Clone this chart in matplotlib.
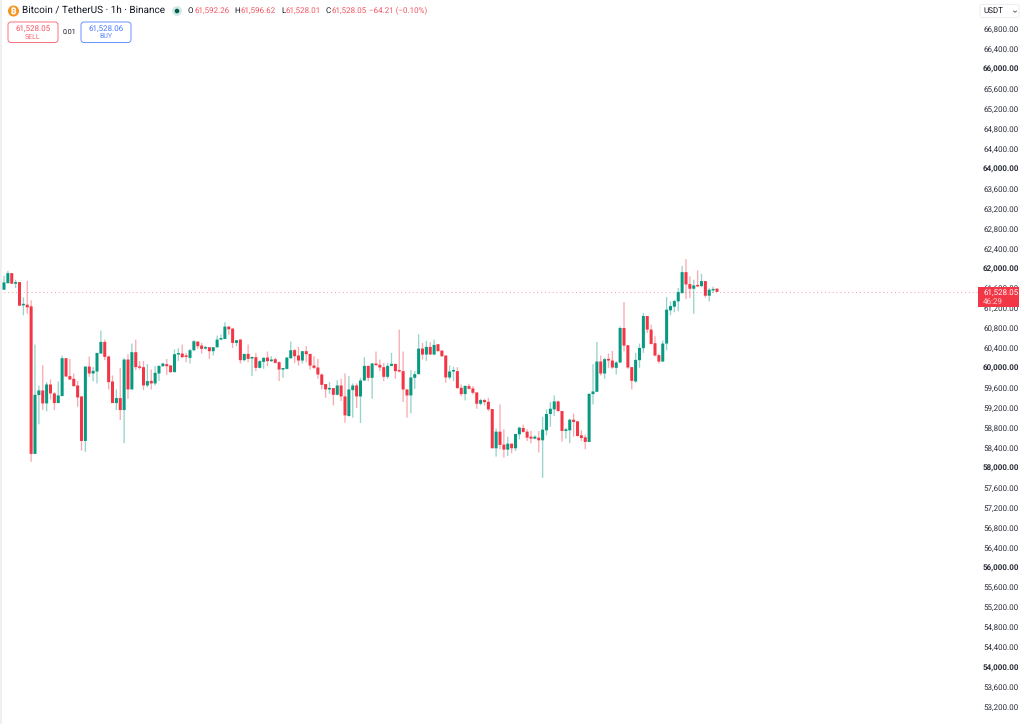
import matplotlib
matplotlib.use("Agg")
import matplotlib.pyplot as plt
import numpy as np
from matplotlib.patches import Circle, FancyBboxPatch, Rectangle

plt.rcParams['font.family'] = ['Roboto', 'DejaVu Sans']
plt.rcParams['text.hinting'] = 'none'
plt.rcParams['text.hinting_factor'] = 1

opens = [61570, 61703, 61903, 61690, 61723, 61257, 61270, 61237, 58277, 59457,
         59550, 59290, 59670, 59490, 59297, 59437, 60197, 59837, 59783, 59650,
         59430, 58537, 60030, 59890, 59930, 60290, 60523, 60230, 59730, 59297,
         59397, 59157, 60170, 59570, 60317, 60030, 60017, 59650, 59743, 59690,
         59890, 60037, 60077, 60050, 59917, 60270, 60290, 60237, 60203, 60357,
         60530, 60450, 60390, 60417, 60337, 60417, 60570, 60583, 60830, 60790,
         60503, 60570, 60157, 60283, 60190, 60217, 60003, 60123, 60210, 60137,
         60177, 60117, 59970, 59983, 60197, 60357, 60250, 60150, 60337, 60283,
         60050, 60010, 59870, 59677, 59570, 59597, 59463, 59650, 59430, 59037,
         59557, 59650, 59430, 59750, 60043, 59803, 60090, 60063, 60017, 59823,
         60043, 60083, 59950, 59937, 59570, 59450, 59803, 59877, 60390, 60270,
         60423, 60270, 60477, 60350, 60250, 59810, 59930, 59937, 59603, 59477,
         59637, 59590, 59510, 59283, 59357, 59323, 59177, 58390, 58723, 58463,
         58363, 58483, 58390, 58670, 58797, 58723, 58623, 58583, 58603, 58550,
         58750, 59077, 59170, 59330, 59137, 58737, 58750, 58963, 58930, 58650,
         58610, 58517, 59477, 59523, 60130, 59890, 60183, 60150, 60003, 60110,
         60803, 60457, 60017, 59730, 60157, 60397, 61043, 60770, 60497, 60257,
         60130, 60490, 61157, 61230, 61337, 61503, 61923, 61683, 61590, 61663,
         61643, 61743, 61450, 61557, 61592.26]
highs = [61850, 61950, 61903, 61770, 61723, 61417, 61750, 61357, 60470, 59650,
         60057, 59717, 59770, 59517, 59730, 60250, 60197, 60183, 59890, 59743,
         59430, 60030, 60230, 60023, 60303, 60750, 60570, 60250, 59850, 59570,
         59997, 60197, 60277, 60490, 60570, 60137, 60143, 60077, 59970, 60037,
         60050, 60103, 60183, 60063, 60370, 60397, 60470, 60303, 60383, 60557,
         60530, 60503, 60450, 60417, 60417, 60650, 60670, 60917, 60843, 60803,
         60557, 60583, 60283, 60470, 60237, 60303, 60157, 60217, 60330, 60237,
         60210, 60130, 59997, 60217, 60530, 60383, 60423, 60343, 60437, 60283,
         60237, 60183, 59890, 59677, 59717, 59597, 59757, 59783, 59890, 59837,
         59690, 59690, 59803, 60217, 60050, 60103, 60330, 60170, 60103, 60103,
         60303, 60083, 60770, 60330, 59570, 59957, 59937, 60677, 60503, 60543,
         60517, 60570, 60477, 60350, 60250, 60050, 60023, 60017, 59670, 59643,
         59683, 59637, 59510, 59383, 59383, 59403, 59177, 58783, 59270, 58770,
         58623, 58483, 58677, 58823, 58863, 58770, 58737, 58650, 58737, 59017,
         59170, 59317, 59450, 59343, 59137, 58803, 58983, 59083, 58937, 58750,
         58663, 59483, 60077, 60523, 60250, 60203, 60290, 60343, 60137, 60837,
         61323, 60457, 60017, 60303, 60490, 61103, 61043, 60870, 60637, 60290,
         60550, 61423, 61337, 61370, 61603, 62050, 62183, 61837, 61770, 61957,
         61890, 61743, 61603, 61630, 61596.62]
lows = [61570, 61690, 61690, 61603, 61250, 61057, 61090, 58117, 58277, 58870,
        59157, 59130, 59370, 59157, 59297, 59437, 59823, 59757, 59623, 59223,
        58343, 58317, 59823, 59730, 59690, 60290, 60157, 59570, 59297, 59157,
        58957, 58490, 59383, 59570, 59957, 59970, 59557, 59610, 59570, 59650,
        59737, 60023, 59863, 59903, 59917, 60143, 60203, 60117, 60090, 60337,
        60383, 60290, 60370, 60183, 60250, 60403, 60557, 60583, 60670, 60403,
        60437, 60090, 60137, 60117, 59837, 59937, 59990, 59983, 60037, 60123,
        60090, 59737, 59803, 59970, 60183, 60103, 60050, 60090, 60117, 59970,
        59983, 59783, 59570, 59403, 59483, 59250, 59450, 59337, 58903, 59023,
        59003, 59197, 58897, 59737, 59737, 59383, 60050, 59937, 59737, 59783,
        60030, 59783, 59917, 59317, 59003, 59090, 59583, 59870, 60170, 60143,
        60270, 60257, 60337, 60223, 59703, 59770, 59737, 59583, 59437, 59350,
        59570, 59470, 59183, 59250, 59250, 59137, 58390, 58223, 58370, 58203,
        58237, 58290, 58337, 58570, 58703, 58537, 58490, 58570, 58303, 57797,
        58650, 58823, 59037, 59123, 58523, 58583, 58490, 58623, 58623, 58537,
        58370, 58517, 59270, 59517, 59850, 59783, 60003, 59983, 59870, 60103,
        60330, 59983, 59570, 59703, 60003, 60303, 60703, 60470, 60237, 60090,
        60123, 60357, 61057, 61117, 61137, 61490, 61383, 61403, 61090, 61623,
        61623, 61410, 61337, 61503, 61528.01]
closes = [61717, 61903, 61690, 61723, 61250, 61277, 61217, 58277, 59463, 59550,
          59290, 59670, 59490, 59297, 59450, 60197, 59830, 59770, 59637, 59410,
          58537, 60030, 59890, 59943, 60303, 60523, 60223, 59717, 59297, 59397,
          59157, 60170, 59570, 60317, 60017, 60003, 59650, 59737, 59690, 59903,
          60043, 60090, 60037, 59917, 60277, 60297, 60217, 60223, 60357, 60537,
          60437, 60383, 60410, 60337, 60417, 60570, 60597, 60830, 60777, 60503,
          60557, 60157, 60283, 60183, 60217, 60003, 60137, 60203, 60137, 60170,
          60103, 59970, 59997, 60210, 60357, 60237, 60150, 60337, 60277, 60050,
          60003, 59870, 59663, 59570, 59597, 59463, 59650, 59430, 59050, 59570,
          59650, 59430, 59750, 60043, 59803, 60090, 60057, 60010, 59823, 60043,
          60083, 59937, 59930, 59570, 59450, 59810, 59877, 60390, 60270, 60423,
          60270, 60463, 60337, 60237, 59810, 59930, 59943, 59597, 59477, 59643,
          59583, 59503, 59283, 59357, 59317, 59170, 58390, 58723, 58457, 58363,
          58483, 58390, 58677, 58803, 58717, 58603, 58583, 58623, 58550, 58763,
          59077, 59183, 59330, 59137, 58737, 58770, 58963, 58917, 58637, 58597,
          58517, 59483, 59530, 60130, 59890, 60177, 60150, 60010, 60110, 60803,
          60450, 60010, 59743, 60163, 60403, 61043, 60770, 60483, 60250, 60130,
          60490, 61170, 61243, 61343, 61523, 61923, 61677, 61590, 61657, 61637,
          61743, 61450, 61570, 61570, 61528.05]
price_ticks = list(range(53200, 67200, 400))

GREEN = '#089981'
RED = '#F23645'
BLUE = '#2962FF'
INK = '#131722'

fig = plt.figure(figsize=(10.24, 7.24), dpi=100)
W, H = 1024, 724

# price pane stops where the scale column starts
ax = fig.add_axes([0, 0, 978 / W, 1])
idx = np.arange(len(opens))
o, h, l, c = map(np.array, (opens, highs, lows, closes))
colors = np.where(c >= o, GREEN, RED)
wicks = ax.vlines(idx, l, h, colors=colors, linewidth=0.95, alpha=0.42, zorder=2)
wicks.set_snap(False)
bodies = ax.bar(idx, np.maximum(np.abs(c - o), 30), bottom=np.minimum(o, c), width=0.78,
                color=colors, linewidth=0, zorder=3)
# no pixel snapping, otherwise neighbouring bodies come out at uneven widths
for b in bodies:
    b.set_snap(False)
ax.axhline(closes[-1], color=RED, linestyle=(0, (1, 3)), linewidth=0.7, alpha=0.5, zorder=1)

step = 3.875
ax.set_xlim(-4 / step, (978 - 4) / step)
ax.set_ylim(52859, 67382)
ax.set_xticks([])
ax.set_yticks(price_ticks)
ax.set_yticklabels([f'{p:,.2f}' for p in price_ticks])
ax.yaxis.tick_right()
ax.tick_params(axis='y', length=0, pad=3.6, labelsize=6, labelcolor='#2a2e39')
for lab, p in zip(ax.get_yticklabels(), price_ticks):
    if p % 2000 == 0:
        lab.set_fontweight('bold')
for s in ax.spines.values():
    s.set_visible(False)

# chrome drawn in pixel coordinates on a transparent overlay
ui = fig.add_axes([0, 0, 1, 1], zorder=5)
ui.set_xlim(0, W)
ui.set_ylim(H, 0)
ui.axis('off')
ui.patch.set_alpha(0)

ui.add_patch(Rectangle((0, 0), 2, H, facecolor='#f0f0f0', edgecolor='none'))

# header line
ui.add_patch(Circle((13.5, 11), 5.5, facecolor='#F7931A', edgecolor='none'))
ui.text(13.5, 11.2, '₿', color='white', fontsize=6, ha='center', va='center',
        family=['Inter', 'Noto Sans', 'Open Sans', 'Lato', 'DejaVu Sans'], fontweight='bold')
ui.text(22, 11, 'Bitcoin / TetherUS · 1h · Binance', fontsize=7.3, color=INK,
        ha='left', va='center')
ui.add_patch(Circle((177, 11), 5, facecolor='#d3ebe6', edgecolor='none'))
ui.add_patch(Circle((177, 11), 2.3, facecolor='#06594b', edgecolor='none'))

ohlc_items = [(188, 'O', 194, '61,592.26'), (234, 'H', 240, '61,596.62'),
              (281, 'L', 285, '61,528.01'), (326, 'C', 331, '61,528.05')]
for x0, key, x1, val in ohlc_items:
    ui.text(x0, 11, key, fontsize=6, color=INK, ha='left', va='center')
    ui.text(x1, 11, val, fontsize=6, color=RED, ha='left', va='center', alpha=0.85)
ui.text(369, 11, '−64.21 (−0.10%)', fontsize=6, color=RED, ha='left', va='center', alpha=0.85)

# sell / buy buttons
for x0, col, price, side in [(8, RED, '61,528.05', 'SELL'), (81, BLUE, '61,528.06', 'BUY')]:
    ui.add_patch(FancyBboxPatch((x0, 22), 50, 20.5, boxstyle='round,pad=0,rounding_size=3',
                                facecolor='white', edgecolor=col, linewidth=0.7, alpha=0.7))
    ui.text(x0 + 25, 28.5, price, fontsize=6.1, color=col, ha='center', va='center', alpha=0.85)
    ui.text(x0 + 25, 37, side, fontsize=5.2, color=col, ha='center', va='center', alpha=0.75)
ui.text(69, 32, '0.01', fontsize=5, color=INK, ha='center', va='center')

# currency selector
ui.add_patch(FancyBboxPatch((980, 4.5), 39, 13, boxstyle='round,pad=0,rounding_size=2',
                            facecolor='white', edgecolor='#eceef2', linewidth=0.7))
ui.text(983, 11.2, 'USDT', fontsize=5.6, color=INK, ha='left', va='center')
ui.plot([1013.5, 1015, 1016.5], [11, 12.3, 11], color='#50535e', linewidth=0.6)

# last price tag
ui.add_patch(Rectangle((978, 287), 41, 20, facecolor=RED, edgecolor='none'))
ui.text(983, 293, '61,528.05', fontsize=6, color='white', ha='left', va='center')
ui.text(983, 301.5, '46:29', fontsize=5.8, color='#ffd5d9', ha='left', va='center')

fig.savefig('out.png', dpi=100, facecolor='white')
plt.close(fig)
